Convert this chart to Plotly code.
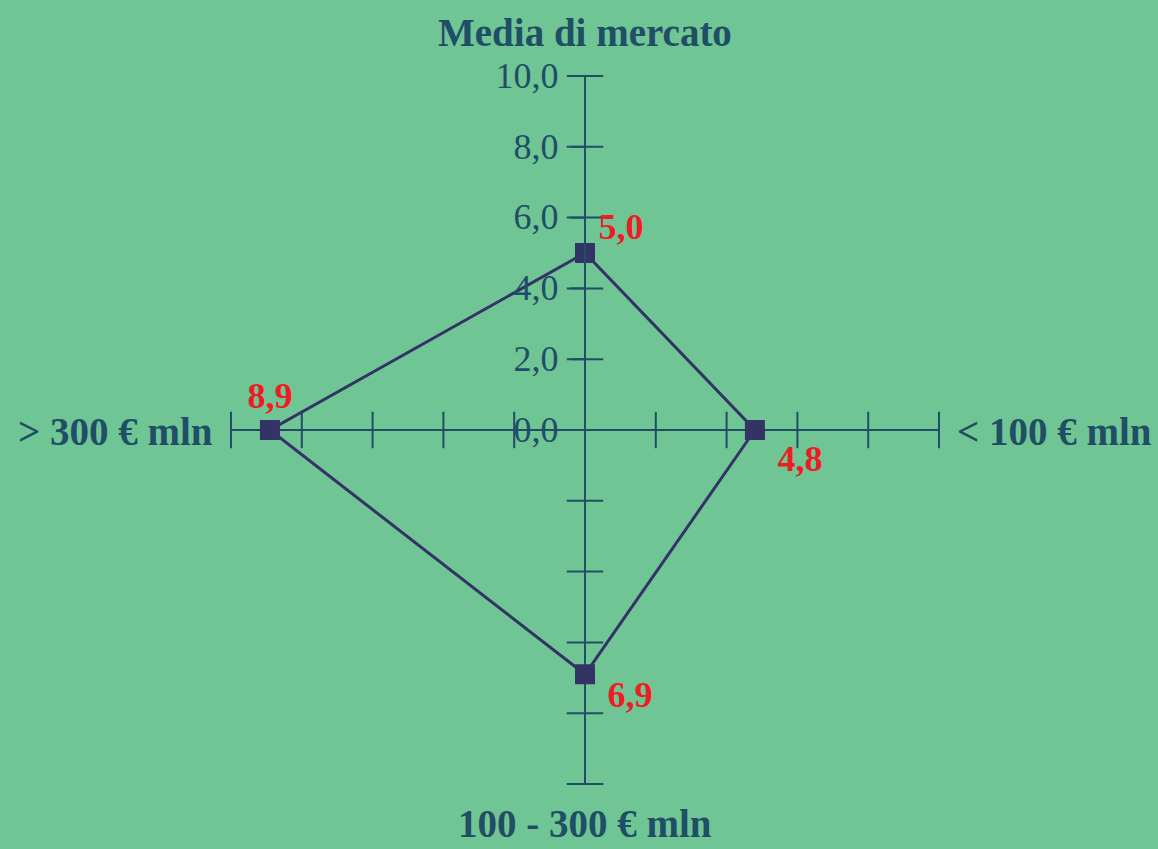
import plotly.graph_objects as go

# categories clockwise from the top
categories = ["Media di mercato", "< 100 € mln", "100 - 300 € mln", "> 300 € mln"]
values = [5.0, 4.8, 6.9, 8.9]
tick_vals = [0, 2, 4, 6, 8, 10]

axis_col = "#1f4e66"
line_col = "#333366"
bg = "#70c594"
serif = "Liberation Serif"
nb = "\u00a0"

# value labels, nudged like the original with spacer lines / spaces
labels = [f"{v:.1f}".replace(".", ",") for v in values]
label_text = [labels[0] + "<br>" + nb, nb + labels[1], nb + "<br>" + nb + labels[2], labels[3]]
label_pos = ["middle right", "bottom right", "middle right", "top center"]

fig = go.Figure()

# cross-shaped tick marks on every spoke
tick_r = [v for v in tick_vals[1:] for _ in categories]
tick_theta = [c for _ in tick_vals[1:] for c in categories]
tick_sym = ["line-ew" if i % 2 == 0 else "line-ns" for i in range(len(categories))] * (len(tick_vals) - 1)
fig.add_trace(go.Scatterpolar(
    r=tick_r, theta=tick_theta, mode="markers",
    marker=dict(symbol=tick_sym, size=26, line=dict(color=axis_col, width=2)),
    hoverinfo="skip", showlegend=False,
))

fig.add_trace(go.Scatterpolar(
    r=values + values[:1],
    theta=categories + categories[:1],
    mode="lines+markers+text",
    line=dict(color=line_col, width=3),
    marker=dict(symbol="square", size=20, color=line_col),
    text=label_text + [""],
    textposition=label_pos + ["top center"],
    textfont=dict(family=serif, size=36, color="#ee1c25", weight="bold"),
    showlegend=False,
))

# category names around the chart (top, right, bottom, left)
name_xy = [(585, 32, "center"), (955, 432, "left"), (585, 823, "center"), (215, 432, "right")]
for name, (x, y, anchor) in zip(categories, name_xy):
    fig.add_annotation(
        text=name, x=x / 1158, y=1 - y / 849, xref="paper", yref="paper",
        xanchor=anchor, yanchor="middle", showarrow=False,
        font=dict(family=serif, size=39, color=axis_col, weight="bold"),
    )

fig.update_layout(
    width=1158, height=849,
    paper_bgcolor=bg, plot_bgcolor=bg,
    margin=dict(l=0, r=0, t=0, b=0),
    separators=",.",
    polar=dict(
        bgcolor=bg,
        domain=dict(x=[231 / 1158, 939 / 1158], y=[65 / 849, 773 / 849]),
        radialaxis=dict(
            range=[0, 10], tickvals=tick_vals, tickformat=".1f",
            angle=90, side="counterclockwise", tickangle=90,
            showline=True, linecolor=axis_col, linewidth=2,
            showgrid=False, ticks="outside", ticklen=13, tickwidth=2, tickcolor=axis_col,
            tickfont=dict(family=serif, size=36, color=axis_col),
        ),
        angularaxis=dict(
            rotation=90, direction="clockwise",
            showline=False, ticks="", showticklabels=False,
            showgrid=True, gridcolor=axis_col, gridwidth=2,
        ),
    ),
)

fig.write_html("out.html", config={"displayModeBar": False},
               post_script="document.body.style.margin='0';")
